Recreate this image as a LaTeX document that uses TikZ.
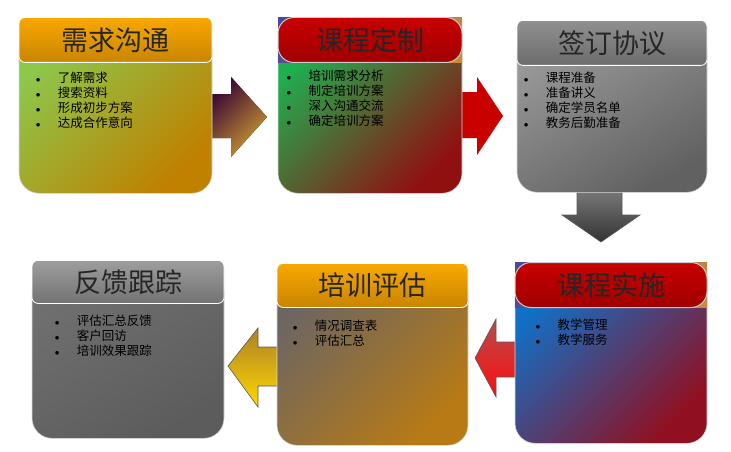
\documentclass[tikz,border=0pt]{standalone}
\usepackage{fontspec}
\setmainfont{Noto Sans CJK SC}
\usepackage{xcolor}
\usepackage{tikz}

\definecolor{hdorange}{HTML}{F8A800}
\definecolor{hdorangedark}{HTML}{C98500}
\definecolor{hdred}{HTML}{C80000}
\definecolor{hdreddark}{HTML}{A00000}
\definecolor{hdgray}{HTML}{909090}
\definecolor{hdgraydark}{HTML}{6C6C6C}
\definecolor{leafgreen}{HTML}{8CC84C}
\definecolor{ochre}{HTML}{C08000}
\definecolor{grassgreen}{HTML}{1EB050}
\definecolor{wine}{HTML}{901010}
\definecolor{stone}{HTML}{707070}
\definecolor{mudgray}{HTML}{6C6662}
\definecolor{clay}{HTML}{B87A14}
\definecolor{skyblue}{HTML}{1070C8}
\definecolor{winered}{HTML}{901020}
\definecolor{backblue}{HTML}{4A4A9A}
\definecolor{backorange}{HTML}{C88A3A}

\newcommand{\flowitem}[1]{\makebox[22pt][l]{$\scriptstyle\bullet$}#1}

\tikzset{
    headbox/.style = {rounded corners = 6pt, draw = white, line width = 0.8pt,
        inner sep = 0pt, text = black!85, font = \fontsize{27}{27}\selectfont},
    bodybox/.style = {rounded corners = 20pt, draw = black!15, line width = 0.6pt,
        inner sep = 0pt},
    backbox/.style = {inner sep = 0pt, top color = backblue, bottom color = backorange,
        shading angle = 45},
    itemlist/.style = {anchor = north west, align = left, inner sep = 0pt,
        font = \fontsize{12.5}{15}\selectfont},
    flowarrow/.style = {draw = black!65, line width = 0.6pt},
}

\begin{document}
\begin{tikzpicture}[x = 1pt, y = -1pt]
        \useasboundingbox (0, 0) rectangle (731, 452);

        % arrows between the steps
        \fill [top color = black!60!violet, bottom color = ochre!80!white, shading angle = 45]
            (205, 94) -- (231, 94) -- (231, 77) -- (267, 117) -- (231, 157)
            -- (231, 138) -- (205, 138) -- cycle;
        \fill [hdred] (455, 92) -- (477, 92) -- (477, 77) -- (503, 116)
            -- (477, 155) -- (477, 138) -- (455, 138) -- cycle;
        \draw [flowarrow, top color = black!50, bottom color = black!80]
            (577, 185) -- (577, 215) -- (562, 215) -- (601, 242) -- (640, 215)
            -- (622, 215) -- (622, 185) -- cycle;
        \draw [flowarrow, top color = ochre!70!gray, bottom color = yellow!70!orange]
            (285, 347) -- (258, 347) -- (258, 328) -- (228, 366) -- (258, 407)
            -- (258, 386) -- (285, 386) -- cycle;
        \draw [flowarrow, top color = red!40!gray, bottom color = red!95!white]
            (525, 342) -- (496, 342) -- (496, 319) -- (475, 358) -- (496, 397)
            -- (496, 377) -- (525, 377) -- cycle;

        % step 1
        \node [bodybox, top color = leafgreen, bottom color = ochre, shading angle = 45,
            minimum width = 193pt, minimum height = 166pt, anchor = north]
            (b1) at (115.5, 27) {};
        \node [headbox, top color = hdorange, bottom color = hdorangedark,
            minimum width = 193pt, minimum height = 45pt, anchor = north]
            (h1) at (115.5, 17) {需求沟通};
        \node [itemlist] (l1) at ([xshift = 17pt, yshift = -9pt] h1.south west)
            {\flowitem{了解需求}\\ \flowitem{搜索资料}\\ \flowitem{形成初步方案}\\ \flowitem{达成合作意向}};

        % step 2
        \node [bodybox, top color = grassgreen, bottom color = wine, shading angle = 45,
            minimum width = 184pt, minimum height = 166pt, anchor = north]
            (b2) at (370, 27) {};
        \node [backbox, minimum width = 184pt, minimum height = 45pt, anchor = north]
            (r2) at (370, 17) {};
        \node [headbox, rounded corners = 16pt, draw = black!20, line width = 1pt,
            top color = hdred, bottom color = hdreddark,
            minimum width = 184pt, minimum height = 45pt, anchor = north]
            (h2) at (370, 17) {课程定制};
        \node [itemlist] (l2) at ([xshift = 9pt, yshift = -7pt] h2.south west)
            {\flowitem{培训需求分析}\\ \flowitem{制定培训方案}\\ \flowitem{深入沟通交流}\\ \flowitem{确定培训方案}};

        % step 3
        \node [bodybox, top color = black!40, bottom color = black!62, shading angle = 30,
            minimum width = 190pt, minimum height = 162pt, anchor = north]
            (b3) at (612, 30) {};
        \node [headbox, top color = hdgray, bottom color = hdgraydark,
            minimum width = 190pt, minimum height = 45pt, anchor = north]
            (h3) at (612, 20) {签订协议};
        \node [itemlist] (l3) at ([xshift = 7pt, yshift = -6pt] h3.south west)
            {\flowitem{课程准备}\\ \flowitem{准备讲义}\\ \flowitem{确定学员名单}\\ \flowitem{教务后勤准备}};

        % step 4
        \node [bodybox, top color = stone, bottom color = black!64, shading angle = 30,
            minimum width = 192pt, minimum height = 168pt, anchor = north]
            (b4) at (128, 270) {};
        \node [headbox, top color = black!38, bottom color = black!55,
            minimum width = 192pt, minimum height = 43pt, anchor = north]
            (h4) at (128, 260) {反馈跟踪};
        \node [itemlist] (l4) at ([xshift = 23pt, yshift = -11pt] h4.south west)
            {\flowitem{评估汇总反馈}\\ \flowitem{客户回访}\\ \flowitem{培训效果跟踪}};

        % step 5
        \node [bodybox, top color = mudgray, bottom color = clay, shading angle = 45,
            minimum width = 191pt, minimum height = 172pt, anchor = north]
            (b5) at (372.5, 273) {};
        \node [headbox, top color = hdorange, bottom color = hdorangedark,
            minimum width = 191pt, minimum height = 44pt, anchor = north]
            (h5) at (372.5, 263) {培训评估};
        \node [itemlist] (l5) at ([xshift = 16pt, yshift = -12pt] h5.south west)
            {\flowitem{情况调查表}\\ \flowitem{评估汇总}};

        % step 6
        \node [bodybox, top color = skyblue, bottom color = winered, shading angle = 45,
            minimum width = 192pt, minimum height = 171pt, anchor = north]
            (b6) at (611, 272) {};
        \node [backbox, minimum width = 192pt, minimum height = 45pt, anchor = north]
            (r6) at (611, 262) {};
        \node [headbox, rounded corners = 16pt, draw = black!20, line width = 1pt,
            top color = hdred, bottom color = hdreddark,
            minimum width = 192pt, minimum height = 45pt, anchor = north]
            (h6) at (611, 262) {课程实施};
        \node [itemlist] (l6) at ([xshift = 21pt, yshift = -11pt] h6.south west)
            {\flowitem{教学管理}\\ \flowitem{教学服务}};
\end{tikzpicture}
\end{document}
